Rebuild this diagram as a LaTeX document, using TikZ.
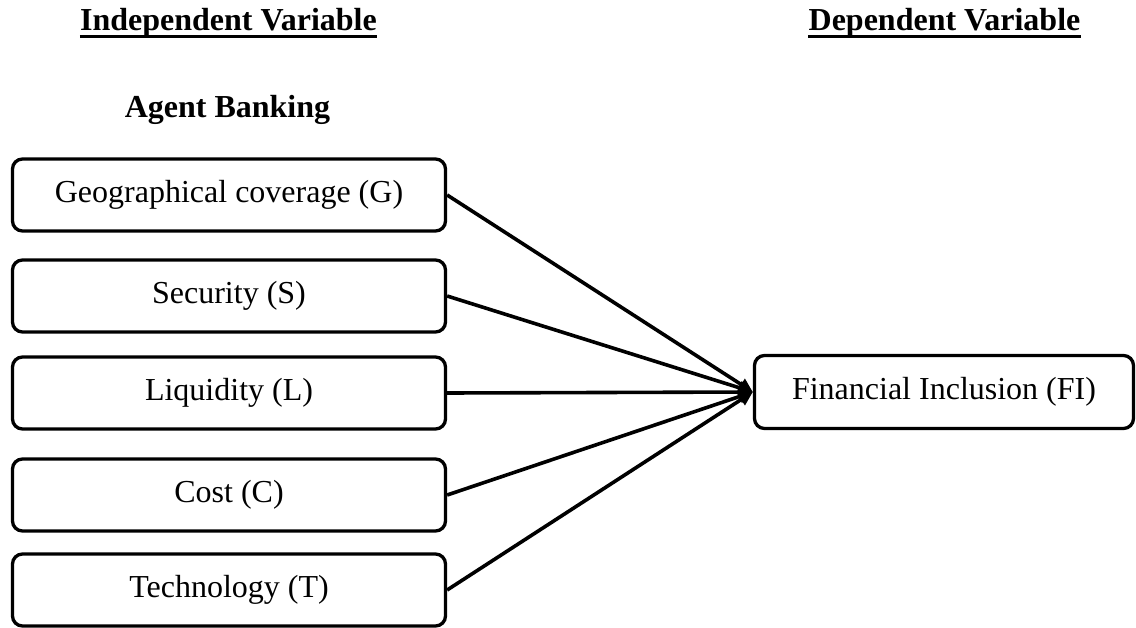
\documentclass[tikz,border=0pt]{standalone}
\usepackage{fontspec}
\setmainfont{Liberation Serif}
\usetikzlibrary{arrows.meta}
\tikzset{
  varbox/.style={draw=black, line width=3.3pt, rounded corners=10pt, fill=white,
    minimum width=433pt, minimum height=72pt, inner sep=0pt,
    font=\fontsize{32}{38}\selectfont},
  depbox/.style={varbox, minimum width=379pt, minimum height=73pt},
  heading/.style={font=\fontsize{32}{38}\selectfont\bfseries, inner sep=0pt, anchor=base},
  link/.style={line width=3.6pt, -{Triangle[length=14pt,width=13pt]}},
  uline/.style={line width=3.6pt}
}
\begin{document}
\begin{tikzpicture}[x=1pt, y=-1pt]
\useasboundingbox (0,0) rectangle (1136,627);

\node[heading] (iv) at (228.5,30) {Independent Variable};
\node[heading] (dv) at (944.5,30) {Dependent Variable};
\node[heading] (ab) at (227.5,117) {Agent Banking};
\draw[uline] ([yshift=-6.5pt]iv.base west) -- ([yshift=-6.5pt]iv.base east);
\draw[uline] ([yshift=-6.5pt]dv.base west) -- ([yshift=-6.5pt]dv.base east);

\node[varbox] (g) at (229,195) {Geographical coverage (G)};
\node[varbox] (s) at (229,296) {Security (S)};
\node[varbox] (l) at (229,393) {Liquidity (L)};
\node[varbox] (c) at (229,495) {Cost (C)};
\node[varbox] (t) at (229,590) {Technology (T)};

\node[depbox] (fi) at (944,392) {Financial Inclusion (FI)};

\draw[link] (g.east) -- (fi.west);
\draw[link] (s.east) -- (fi.west);
\draw[link] (l.east) -- (fi.west);
\draw[link] (c.east) -- (fi.west);
\draw[link] (t.east) -- (fi.west);
\end{tikzpicture}
\end{document}
